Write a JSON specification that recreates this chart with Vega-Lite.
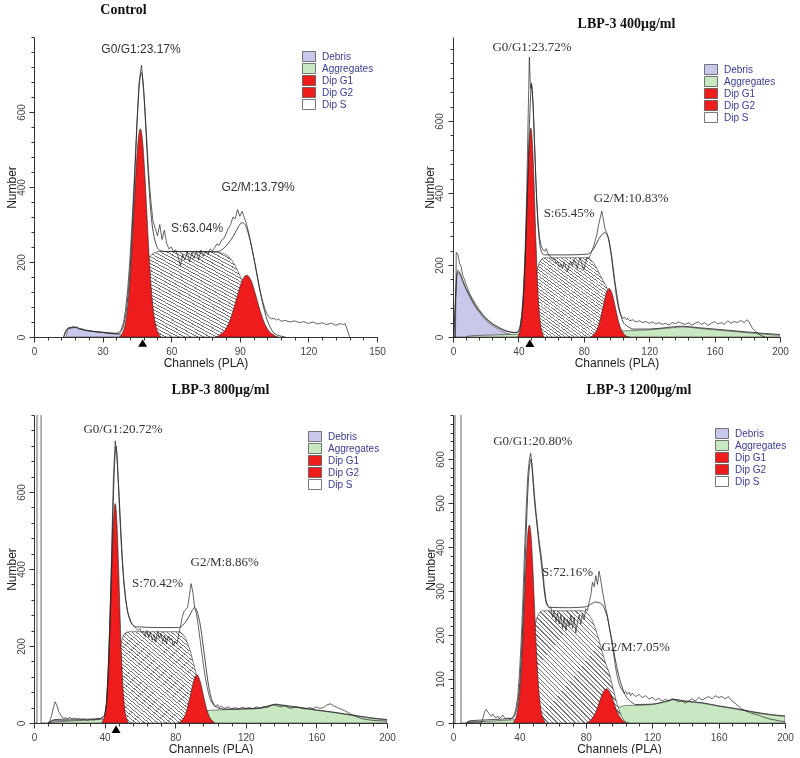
{
"$schema": "https://vega.github.io/schema/vega-lite/v6.json",
"padding": {"left": 5, "top": 2, "right": 0, "bottom": 0},
"columns": 2,
"bounds": "flush",
"spacing": {"row": 78, "column": 66},
"resolve": {"scale": {"fill": "independent"}, "legend": {"fill": "independent"}},
"datasets": {
"p1c": [
{"x":14,"y":0,"c":"Debris"},{"x":15,"y":22,"c":"Debris"},{"x":16,"y":26,"c":"Debris"},{"x":17,"y":24,"c":"Debris"},{"x":18,"y":27,"c":"Debris"},{"x":19,"y":23,"c":"Debris"},{"x":20,"y":22,"c":"Debris"},{"x":22,"y":18,"c":"Debris"},{"x":24,"y":16,"c":"Debris"},{"x":26,"y":14,"c":"Debris"},{"x":28,"y":13,"c":"Debris"},{"x":30,"y":12,"c":"Debris"},{"x":32,"y":10,"c":"Debris"},{"x":34,"y":9,"c":"Debris"},{"x":36,"y":8,"c":"Debris"},{"x":38,"y":6,"c":"Debris"},{"x":40,"y":4,"c":"Debris"},{"x":43,"y":2,"c":"Debris"},{"x":46,"y":0,"c":"Debris"},
{"x":37.5,"y":0,"c":"Dip G1"},{"x":38.5,"y":9,"c":"Dip G1"},{"x":39.5,"y":24,"c":"Dip G1"},{"x":40.5,"y":56,"c":"Dip G1"},{"x":41.5,"y":113,"c":"Dip G1"},{"x":42.5,"y":200,"c":"Dip G1"},{"x":43.5,"y":313,"c":"Dip G1"},{"x":44.5,"y":430,"c":"Dip G1"},{"x":45.5,"y":521,"c":"Dip G1"},{"x":46.5,"y":555,"c":"Dip G1"},{"x":47.5,"y":521,"c":"Dip G1"},{"x":48.5,"y":430,"c":"Dip G1"},{"x":49.5,"y":313,"c":"Dip G1"},{"x":50.5,"y":200,"c":"Dip G1"},{"x":51.5,"y":113,"c":"Dip G1"},{"x":52.5,"y":56,"c":"Dip G1"},{"x":53.5,"y":24,"c":"Dip G1"},{"x":54.5,"y":9,"c":"Dip G1"},{"x":55.5,"y":0,"c":"Dip G1"},
{"x":80,"y":0,"c":"Dip G2"},{"x":81,"y":5,"c":"Dip G2"},{"x":83,"y":14,"c":"Dip G2"},{"x":85,"y":34,"c":"Dip G2"},{"x":87,"y":68,"c":"Dip G2"},{"x":89,"y":111,"c":"Dip G2"},{"x":91,"y":150,"c":"Dip G2"},{"x":93,"y":165,"c":"Dip G2"},{"x":95,"y":150,"c":"Dip G2"},{"x":97,"y":111,"c":"Dip G2"},{"x":99,"y":68,"c":"Dip G2"},{"x":101,"y":34,"c":"Dip G2"},{"x":103,"y":14,"c":"Dip G2"},{"x":105,"y":5,"c":"Dip G2"},{"x":106,"y":0,"c":"Dip G2"},
{"x":38,"y":0,"c":"Dip S"},{"x":40,"y":8,"c":"Dip S"},{"x":42,"y":30,"c":"Dip S"},{"x":44,"y":70,"c":"Dip S"},{"x":46,"y":125,"c":"Dip S"},{"x":48,"y":175,"c":"Dip S"},{"x":50,"y":208,"c":"Dip S"},{"x":52,"y":222,"c":"Dip S"},{"x":55,"y":228,"c":"Dip S"},{"x":80,"y":226,"c":"Dip S"},{"x":83,"y":222,"c":"Dip S"},{"x":85,"y":215,"c":"Dip S"},{"x":87,"y":200,"c":"Dip S"},{"x":89,"y":178,"c":"Dip S"},{"x":91,"y":150,"c":"Dip S"},{"x":93,"y":120,"c":"Dip S"},{"x":95,"y":90,"c":"Dip S"},{"x":97,"y":62,"c":"Dip S"},{"x":99,"y":38,"c":"Dip S"},{"x":101,"y":20,"c":"Dip S"},{"x":103,"y":8,"c":"Dip S"},{"x":105,"y":2,"c":"Dip S"},{"x":107,"y":0,"c":"Dip S"}
],
"p1m": [
{"x":13,"y":0},{"x":14,"y":18},{"x":16,"y":25},{"x":18,"y":26},{"x":20,"y":22},{"x":25,"y":16},{"x":30,"y":12},{"x":35,"y":9},{"x":37,"y":9},{"x":38,"y":14},{"x":39,"y":28},{"x":40,"y":55},{"x":41,"y":105},{"x":42,"y":180},{"x":43,"y":290},{"x":44,"y":420},{"x":45,"y":560},{"x":46,"y":670},{"x":47,"y":705},{"x":48,"y":650},{"x":49,"y":545},{"x":50,"y":430},{"x":51,"y":340},{"x":52,"y":285},{"x":53,"y":255},{"x":54,"y":238},{"x":55,"y":231},{"x":57,"y":228},{"x":70,"y":228},{"x":80,"y":228},{"x":82,"y":232},{"x":84,"y":243},{"x":86,"y":258},{"x":88,"y":278},{"x":89.5,"y":295},{"x":91,"y":305},{"x":92,"y":302},{"x":93,"y":290},{"x":94,"y":270},{"x":95,"y":245},{"x":96,"y":215},{"x":97,"y":182},{"x":98,"y":150},{"x":99,"y":118},{"x":100,"y":90},{"x":101,"y":65},{"x":102,"y":45},{"x":103,"y":30},{"x":104,"y":18},{"x":105,"y":10},{"x":107,"y":4},{"x":110,"y":0}
],
"p1r": [
{"x":13,"y":0},{"x":14,"y":15},{"x":15,"y":25},{"x":16,"y":22},{"x":17,"y":28},{"x":18,"y":24},{"x":19,"y":27},{"x":20,"y":20},{"x":21,"y":22},{"x":22,"y":18},{"x":24,"y":17},{"x":26,"y":15},{"x":28,"y":14},{"x":30,"y":13},{"x":32,"y":12},{"x":34,"y":11},{"x":36,"y":10},{"x":37,"y":12},{"x":38,"y":18},{"x":39,"y":35},{"x":40,"y":70},{"x":41,"y":130},{"x":42,"y":210},{"x":43,"y":320},{"x":44,"y":440},{"x":45,"y":570},{"x":46,"y":680},{"x":47,"y":725},{"x":48,"y":660},{"x":49,"y":560},{"x":50,"y":450},{"x":51,"y":370},{"x":52,"y":310},{"x":53,"y":290},{"x":54,"y":270},{"x":55,"y":300},{"x":56,"y":260},{"x":57,"y":285},{"x":58,"y":250},{"x":59,"y":235},{"x":60,"y":240},{"x":61,"y":228},{"x":62,"y":232},{"x":63,"y":215},{"x":64,"y":190},{"x":65,"y":220},{"x":66,"y":205},{"x":67,"y":228},{"x":68,"y":200},{"x":69,"y":225},{"x":70,"y":210},{"x":71,"y":230},{"x":72,"y":205},{"x":73,"y":232},{"x":74,"y":215},{"x":75,"y":228},{"x":76,"y":220},{"x":77,"y":235},{"x":78,"y":230},{"x":79,"y":238},{"x":80,"y":248},{"x":81,"y":245},{"x":82,"y":258},{"x":83,"y":262},{"x":84,"y":275},{"x":85,"y":290},{"x":86,"y":300},{"x":87,"y":320},{"x":88,"y":315},{"x":89,"y":340},{"x":90,"y":322},{"x":91,"y":335},{"x":92,"y":318},{"x":93,"y":300},{"x":94,"y":275},{"x":95,"y":245},{"x":96,"y":215},{"x":97,"y":185},{"x":98,"y":150},{"x":99,"y":120},{"x":100,"y":95},{"x":101,"y":75},{"x":102,"y":60},{"x":103,"y":52},{"x":104,"y":48},{"x":105,"y":50},{"x":106,"y":45},{"x":107,"y":48},{"x":108,"y":42},{"x":110,"y":44},{"x":112,"y":40},{"x":114,"y":43},{"x":116,"y":38},{"x":118,"y":41},{"x":120,"y":36},{"x":122,"y":40},{"x":124,"y":35},{"x":126,"y":38},{"x":128,"y":33},{"x":130,"y":37},{"x":132,"y":31},{"x":134,"y":36},{"x":135,"y":33},{"x":136,"y":36},{"x":137,"y":20},{"x":138,"y":0}
],
"p1t": [{"x":46.8,"y":768,"t":"G0/G1:23.17%"},{"x":71.3,"y":291,"t":"S:63.04%"},{"x":98,"y":400,"t":"G2/M:13.79%"}],
"p1k": [{"x":47.5}],
"p2c": [
{"x":0.5,"y":0,"c":"Debris"},{"x":1.5,"y":100,"c":"Debris"},{"x":2.5,"y":175,"c":"Debris"},{"x":3,"y":180,"c":"Debris"},{"x":4,"y":176,"c":"Debris"},{"x":5,"y":166,"c":"Debris"},{"x":6,"y":154,"c":"Debris"},{"x":8,"y":132,"c":"Debris"},{"x":10,"y":113,"c":"Debris"},{"x":12,"y":96,"c":"Debris"},{"x":14,"y":81,"c":"Debris"},{"x":16,"y":68,"c":"Debris"},{"x":18,"y":57,"c":"Debris"},{"x":20,"y":47,"c":"Debris"},{"x":22,"y":39,"c":"Debris"},{"x":24,"y":32,"c":"Debris"},{"x":26,"y":26,"c":"Debris"},{"x":28,"y":21,"c":"Debris"},{"x":30,"y":16,"c":"Debris"},{"x":32,"y":12,"c":"Debris"},{"x":34,"y":9,"c":"Debris"},{"x":36,"y":6,"c":"Debris"},{"x":38,"y":4,"c":"Debris"},{"x":40,"y":2,"c":"Debris"},{"x":42,"y":0,"c":"Debris"},
{"x":8,"y":0,"c":"Aggregates"},{"x":10,"y":3,"c":"Aggregates"},{"x":20,"y":5,"c":"Aggregates"},{"x":40,"y":8,"c":"Aggregates"},{"x":60,"y":10,"c":"Aggregates"},{"x":80,"y":13,"c":"Aggregates"},{"x":100,"y":16,"c":"Aggregates"},{"x":105,"y":17,"c":"Aggregates"},{"x":110,"y":18,"c":"Aggregates"},{"x":120,"y":20,"c":"Aggregates"},{"x":130,"y":24,"c":"Aggregates"},{"x":135,"y":26,"c":"Aggregates"},{"x":140,"y":28,"c":"Aggregates"},{"x":145,"y":27,"c":"Aggregates"},{"x":150,"y":24,"c":"Aggregates"},{"x":160,"y":20,"c":"Aggregates"},{"x":170,"y":16,"c":"Aggregates"},{"x":180,"y":12,"c":"Aggregates"},{"x":185,"y":10,"c":"Aggregates"},{"x":190,"y":8,"c":"Aggregates"},{"x":195,"y":6,"c":"Aggregates"},{"x":200,"y":5,"c":"Aggregates"},
{"x":39.6,"y":0,"c":"Dip G1"},{"x":40.6,"y":12,"c":"Dip G1"},{"x":41.6,"y":33,"c":"Dip G1"},{"x":42.6,"y":78,"c":"Dip G1"},{"x":43.6,"y":161,"c":"Dip G1"},{"x":44.6,"y":282,"c":"Dip G1"},{"x":45.6,"y":421,"c":"Dip G1"},{"x":46.6,"y":535,"c":"Dip G1"},{"x":47.6,"y":580,"c":"Dip G1"},{"x":48.6,"y":535,"c":"Dip G1"},{"x":49.6,"y":421,"c":"Dip G1"},{"x":50.6,"y":282,"c":"Dip G1"},{"x":51.6,"y":161,"c":"Dip G1"},{"x":52.6,"y":78,"c":"Dip G1"},{"x":53.6,"y":33,"c":"Dip G1"},{"x":54.6,"y":12,"c":"Dip G1"},{"x":55.6,"y":0,"c":"Dip G1"},
{"x":84.5,"y":0,"c":"Dip G2"},{"x":85.5,"y":4,"c":"Dip G2"},{"x":87.5,"y":15,"c":"Dip G2"},{"x":89.5,"y":39,"c":"Dip G2"},{"x":91.5,"y":78,"c":"Dip G2"},{"x":93.5,"y":118,"c":"Dip G2"},{"x":95.5,"y":135,"c":"Dip G2"},{"x":97.5,"y":118,"c":"Dip G2"},{"x":99.5,"y":78,"c":"Dip G2"},{"x":101.5,"y":39,"c":"Dip G2"},{"x":103.5,"y":15,"c":"Dip G2"},{"x":105.5,"y":4,"c":"Dip G2"},{"x":106.5,"y":0,"c":"Dip G2"},
{"x":42,"y":0,"c":"Dip S"},{"x":44,"y":10,"c":"Dip S"},{"x":46,"y":40,"c":"Dip S"},{"x":48,"y":90,"c":"Dip S"},{"x":50,"y":150,"c":"Dip S"},{"x":52,"y":195,"c":"Dip S"},{"x":54,"y":215,"c":"Dip S"},{"x":56,"y":220,"c":"Dip S"},{"x":82,"y":220,"c":"Dip S"},{"x":84,"y":215,"c":"Dip S"},{"x":86,"y":205,"c":"Dip S"},{"x":88,"y":190,"c":"Dip S"},{"x":90,"y":172,"c":"Dip S"},{"x":92,"y":155,"c":"Dip S"},{"x":94,"y":138,"c":"Dip S"},{"x":96,"y":108,"c":"Dip S"},{"x":98,"y":75,"c":"Dip S"},{"x":100,"y":45,"c":"Dip S"},{"x":102,"y":22,"c":"Dip S"},{"x":104,"y":8,"c":"Dip S"},{"x":106,"y":2,"c":"Dip S"},{"x":108,"y":0,"c":"Dip S"}
],
"p2m": [
{"x":0.5,"y":0},{"x":1.5,"y":105},{"x":2.5,"y":180},{"x":3,"y":185},{"x":4,"y":180},{"x":6,"y":157},{"x":8,"y":135},{"x":10,"y":117},{"x":12,"y":100},{"x":14,"y":85},{"x":16,"y":72},{"x":18,"y":61},{"x":20,"y":51},{"x":22,"y":43},{"x":24,"y":36},{"x":26,"y":30},{"x":28,"y":25},{"x":30,"y":21},{"x":32,"y":17},{"x":34,"y":15},{"x":36,"y":13},{"x":38,"y":12},{"x":40,"y":14},{"x":41,"y":25},{"x":42,"y":55},{"x":43,"y":110},{"x":44,"y":200},{"x":45,"y":330},{"x":46,"y":480},{"x":47,"y":620},{"x":48,"y":700},{"x":49,"y":640},{"x":50,"y":520},{"x":51,"y":400},{"x":52,"y":310},{"x":53,"y":260},{"x":54,"y":238},{"x":55,"y":230},{"x":57,"y":228},{"x":70,"y":228},{"x":82,"y":230},{"x":84,"y":235},{"x":86,"y":245},{"x":88,"y":262},{"x":90,"y":278},{"x":92,"y":288},{"x":93,"y":290},{"x":94,"y":285},{"x":95,"y":275},{"x":96,"y":255},{"x":97,"y":225},{"x":98,"y":190},{"x":99,"y":155},{"x":100,"y":125},{"x":101,"y":95},{"x":102,"y":72},{"x":103,"y":55},{"x":104,"y":42},{"x":106,"y":32},{"x":108,"y":26},{"x":110,"y":22},{"x":120,"y":22},{"x":130,"y":26},{"x":140,"y":30},{"x":150,"y":26},{"x":160,"y":22},{"x":170,"y":18},{"x":180,"y":14},{"x":190,"y":10},{"x":200,"y":7}
],
"p2r": [
{"x":0,"y":0},{"x":1.5,"y":0},{"x":2,"y":235},{"x":3,"y":230},{"x":4,"y":205},{"x":5,"y":195},{"x":6,"y":170},{"x":7,"y":160},{"x":8,"y":145},{"x":9,"y":135},{"x":10,"y":122},{"x":12,"y":105},{"x":14,"y":90},{"x":16,"y":76},{"x":18,"y":64},{"x":20,"y":54},{"x":22,"y":45},{"x":24,"y":38},{"x":26,"y":32},{"x":28,"y":27},{"x":30,"y":22},{"x":32,"y":18},{"x":34,"y":15},{"x":36,"y":13},{"x":38,"y":12},{"x":40,"y":15},{"x":41,"y":30},{"x":42,"y":60},{"x":43,"y":120},{"x":44,"y":220},{"x":45,"y":380},{"x":46,"y":620},{"x":46.7,"y":777},{"x":47.4,"y":690},{"x":48,"y":705},{"x":49,"y":650},{"x":50,"y":520},{"x":51,"y":400},{"x":52,"y":320},{"x":53,"y":275},{"x":54,"y":252},{"x":55,"y":243},{"x":56,"y":238},{"x":57,"y":245},{"x":58,"y":232},{"x":59,"y":225},{"x":60,"y":222},{"x":61,"y":215},{"x":62,"y":218},{"x":63,"y":205},{"x":64,"y":210},{"x":65,"y":195},{"x":66,"y":203},{"x":67,"y":190},{"x":68,"y":208},{"x":69,"y":195},{"x":70,"y":182},{"x":71,"y":200},{"x":72,"y":210},{"x":73,"y":198},{"x":74,"y":215},{"x":75,"y":205},{"x":76,"y":190},{"x":77,"y":212},{"x":78,"y":220},{"x":79,"y":200},{"x":80,"y":185},{"x":81,"y":205},{"x":82,"y":222},{"x":83,"y":218},{"x":84,"y":228},{"x":85,"y":240},{"x":86,"y":252},{"x":87,"y":268},{"x":88,"y":285},{"x":89,"y":310},{"x":90,"y":330},{"x":91,"y":350},{"x":92,"y":325},{"x":93,"y":300},{"x":94,"y":290},{"x":95,"y":275},{"x":96,"y":250},{"x":97,"y":220},{"x":98,"y":180},{"x":99,"y":145},{"x":100,"y":110},{"x":101,"y":85},{"x":102,"y":68},{"x":103,"y":58},{"x":104,"y":52},{"x":105,"y":55},{"x":106,"y":48},{"x":107,"y":52},{"x":108,"y":45},{"x":110,"y":48},{"x":112,"y":42},{"x":114,"y":45},{"x":116,"y":40},{"x":118,"y":43},{"x":120,"y":38},{"x":122,"y":42},{"x":124,"y":36},{"x":126,"y":40},{"x":128,"y":35},{"x":130,"y":38},{"x":132,"y":33},{"x":134,"y":40},{"x":136,"y":37},{"x":138,"y":42},{"x":140,"y":38},{"x":142,"y":35},{"x":144,"y":40},{"x":146,"y":33},{"x":148,"y":38},{"x":150,"y":42},{"x":152,"y":35},{"x":154,"y":40},{"x":156,"y":32},{"x":158,"y":38},{"x":160,"y":43},{"x":162,"y":36},{"x":164,"y":40},{"x":166,"y":35},{"x":168,"y":45},{"x":170,"y":38},{"x":172,"y":43},{"x":174,"y":40},{"x":176,"y":46},{"x":178,"y":40},{"x":180,"y":48},{"x":181,"y":42},{"x":183,"y":25},{"x":185,"y":15},{"x":187,"y":8},{"x":189,"y":3},{"x":191,"y":0}
],
"p2t": [{"x":48.3,"y":805,"t":"G0/G1:23.72%"},{"x":71,"y":344,"t":"S:65.45%"},{"x":109,"y":386,"t":"G2/M:10.83%"}],
"p2k": [{"x":47}],
"p3c": [
{"x":8,"y":0,"c":"Debris"},{"x":10,"y":5,"c":"Debris"},{"x":12,"y":7,"c":"Debris"},{"x":20,"y":6,"c":"Debris"},{"x":30,"y":5,"c":"Debris"},{"x":40,"y":3,"c":"Debris"},{"x":45,"y":0,"c":"Debris"},
{"x":8,"y":0,"c":"Aggregates"},{"x":10,"y":2,"c":"Aggregates"},{"x":20,"y":5,"c":"Aggregates"},{"x":40,"y":10,"c":"Aggregates"},{"x":60,"y":15,"c":"Aggregates"},{"x":80,"y":22,"c":"Aggregates"},{"x":95,"y":30,"c":"Aggregates"},{"x":100,"y":33,"c":"Aggregates"},{"x":110,"y":35,"c":"Aggregates"},{"x":120,"y":36,"c":"Aggregates"},{"x":128,"y":38,"c":"Aggregates"},{"x":134,"y":45,"c":"Aggregates"},{"x":137,"y":48,"c":"Aggregates"},{"x":140,"y":46,"c":"Aggregates"},{"x":145,"y":42,"c":"Aggregates"},{"x":150,"y":40,"c":"Aggregates"},{"x":160,"y":33,"c":"Aggregates"},{"x":170,"y":27,"c":"Aggregates"},{"x":180,"y":20,"c":"Aggregates"},{"x":190,"y":13,"c":"Aggregates"},{"x":195,"y":10,"c":"Aggregates"},{"x":200,"y":8,"c":"Aggregates"},
{"x":38.5,"y":0,"c":"Dip G1"},{"x":39,"y":6,"c":"Dip G1"},{"x":40,"y":19,"c":"Dip G1"},{"x":41,"y":54,"c":"Dip G1"},{"x":42,"y":126,"c":"Dip G1"},{"x":43,"y":243,"c":"Dip G1"},{"x":44,"y":391,"c":"Dip G1"},{"x":45,"y":519,"c":"Dip G1"},{"x":46,"y":570,"c":"Dip G1"},{"x":47,"y":519,"c":"Dip G1"},{"x":48,"y":391,"c":"Dip G1"},{"x":49,"y":243,"c":"Dip G1"},{"x":50,"y":126,"c":"Dip G1"},{"x":51,"y":54,"c":"Dip G1"},{"x":52,"y":19,"c":"Dip G1"},{"x":53,"y":6,"c":"Dip G1"},{"x":53.5,"y":0,"c":"Dip G1"},
{"x":82.3,"y":0,"c":"Dip G2"},{"x":83.3,"y":5,"c":"Dip G2"},{"x":84.3,"y":9,"c":"Dip G2"},{"x":86.3,"y":29,"c":"Dip G2"},{"x":88.3,"y":65,"c":"Dip G2"},{"x":90.3,"y":106,"c":"Dip G2"},{"x":92.3,"y":125,"c":"Dip G2"},{"x":94.3,"y":106,"c":"Dip G2"},{"x":96.3,"y":65,"c":"Dip G2"},{"x":98.3,"y":29,"c":"Dip G2"},{"x":100.3,"y":9,"c":"Dip G2"},{"x":101.3,"y":5,"c":"Dip G2"},{"x":102.3,"y":0,"c":"Dip G2"},
{"x":40,"y":0,"c":"Dip S"},{"x":42,"y":12,"c":"Dip S"},{"x":44,"y":50,"c":"Dip S"},{"x":46,"y":110,"c":"Dip S"},{"x":48,"y":175,"c":"Dip S"},{"x":50,"y":218,"c":"Dip S"},{"x":52,"y":235,"c":"Dip S"},{"x":54,"y":237,"c":"Dip S"},{"x":82,"y":237,"c":"Dip S"},{"x":84,"y":232,"c":"Dip S"},{"x":86,"y":218,"c":"Dip S"},{"x":88,"y":195,"c":"Dip S"},{"x":90,"y":162,"c":"Dip S"},{"x":92,"y":125,"c":"Dip S"},{"x":94,"y":88,"c":"Dip S"},{"x":96,"y":52,"c":"Dip S"},{"x":98,"y":24,"c":"Dip S"},{"x":100,"y":7,"c":"Dip S"},{"x":102,"y":0,"c":"Dip S"}
],
"p3m": [
{"x":8,"y":0},{"x":10,"y":6},{"x":12,"y":9},{"x":20,"y":10},{"x":30,"y":10},{"x":38,"y":12},{"x":40,"y":20},{"x":41,"y":45},{"x":42,"y":140},{"x":43,"y":270},{"x":44,"y":420},{"x":45,"y":590},{"x":46,"y":700},{"x":46.5,"y":719},{"x":47,"y":690},{"x":48,"y":610},{"x":49,"y":520},{"x":50,"y":430},{"x":51,"y":365},{"x":52,"y":320},{"x":53,"y":290},{"x":54,"y":272},{"x":55,"y":260},{"x":56,"y":254},{"x":58,"y":250},{"x":70,"y":248},{"x":82,"y":248},{"x":84,"y":253},{"x":86,"y":263},{"x":88,"y":278},{"x":90,"y":295},{"x":91,"y":300},{"x":92,"y":295},{"x":93,"y":280},{"x":94,"y":260},{"x":95,"y":230},{"x":96,"y":195},{"x":97,"y":160},{"x":98,"y":125},{"x":99,"y":95},{"x":100,"y":72},{"x":101,"y":57},{"x":102,"y":48},{"x":104,"y":40},{"x":106,"y":37},{"x":110,"y":36},{"x":120,"y":37},{"x":128,"y":39},{"x":134,"y":46},{"x":137,"y":49},{"x":140,"y":47},{"x":150,"y":41},{"x":160,"y":34},{"x":170,"y":28},{"x":180,"y":21},{"x":190,"y":14},{"x":200,"y":9}
],
"p3r": [
{"x":0,"y":0},{"x":1.69,"y":0},{"x":1.7,"y":2000},{"x":4,"y":2000},{"x":4.01,"y":0},{"x":8,"y":0},{"x":9,"y":5},{"x":10,"y":20},{"x":11,"y":40},{"x":12,"y":55},{"x":13,"y":45},{"x":14,"y":30},{"x":15,"y":22},{"x":16,"y":15},{"x":17,"y":12},{"x":18,"y":14},{"x":19,"y":10},{"x":20,"y":15},{"x":21,"y":12},{"x":22,"y":10},{"x":23,"y":13},{"x":24,"y":9},{"x":25,"y":12},{"x":26,"y":8},{"x":28,"y":10},{"x":30,"y":7},{"x":32,"y":9},{"x":34,"y":8},{"x":36,"y":10},{"x":38,"y":12},{"x":40,"y":20},{"x":41,"y":50},{"x":42,"y":120},{"x":43,"y":260},{"x":44,"y":450},{"x":45,"y":640},{"x":46,"y":733},{"x":47,"y":700},{"x":48,"y":600},{"x":49,"y":500},{"x":50,"y":420},{"x":51,"y":360},{"x":52,"y":318},{"x":53,"y":290},{"x":54,"y":275},{"x":55,"y":262},{"x":56,"y":255},{"x":57,"y":250},{"x":58,"y":245},{"x":59,"y":240},{"x":60,"y":245},{"x":61,"y":235},{"x":62,"y":238},{"x":63,"y":225},{"x":64,"y":240},{"x":65,"y":222},{"x":66,"y":235},{"x":67,"y":215},{"x":68,"y":230},{"x":69,"y":210},{"x":70,"y":238},{"x":71,"y":220},{"x":72,"y":232},{"x":73,"y":212},{"x":74,"y":228},{"x":75,"y":205},{"x":76,"y":225},{"x":77,"y":215},{"x":78,"y":220},{"x":79,"y":200},{"x":80,"y":212},{"x":81,"y":205},{"x":82,"y":230},{"x":83,"y":250},{"x":84,"y":275},{"x":85,"y":290},{"x":86,"y":295},{"x":87,"y":300},{"x":88,"y":330},{"x":89,"y":362},{"x":90,"y":340},{"x":91,"y":300},{"x":92,"y":285},{"x":93,"y":255},{"x":94,"y":220},{"x":95,"y":185},{"x":96,"y":150},{"x":97,"y":120},{"x":98,"y":95},{"x":99,"y":75},{"x":100,"y":60},{"x":101,"y":52},{"x":102,"y":45},{"x":103,"y":42},{"x":104,"y":48},{"x":105,"y":40},{"x":106,"y":44},{"x":108,"y":38},{"x":110,"y":42},{"x":112,"y":37},{"x":114,"y":40},{"x":116,"y":36},{"x":118,"y":41},{"x":120,"y":38},{"x":122,"y":40},{"x":124,"y":37},{"x":126,"y":42},{"x":128,"y":38},{"x":130,"y":43},{"x":132,"y":40},{"x":134,"y":45},{"x":136,"y":48},{"x":138,"y":44},{"x":140,"y":42},{"x":142,"y":45},{"x":144,"y":40},{"x":146,"y":38},{"x":148,"y":42},{"x":150,"y":40},{"x":152,"y":38},{"x":154,"y":36},{"x":156,"y":40},{"x":158,"y":37},{"x":160,"y":42},{"x":162,"y":38},{"x":164,"y":40},{"x":166,"y":47},{"x":168,"y":50},{"x":170,"y":44},{"x":172,"y":40},{"x":174,"y":36},{"x":176,"y":32},{"x":178,"y":27},{"x":180,"y":22},{"x":182,"y":18},{"x":184,"y":14},{"x":186,"y":11},{"x":188,"y":9},{"x":190,"y":8},{"x":192,"y":7},{"x":195,"y":6},{"x":200,"y":5}
],
"p3t": [{"x":50.4,"y":764,"t":"G0/G1:20.72%"},{"x":70,"y":364,"t":"S:70.42%"},{"x":108,"y":418,"t":"G2/M:8.86%"}],
"p3k": [{"x":46.5}],
"p4c": [
{"x":8,"y":0,"c":"Debris"},{"x":10,"y":3,"c":"Debris"},{"x":20,"y":3,"c":"Debris"},{"x":30,"y":2,"c":"Debris"},{"x":38,"y":0,"c":"Debris"},
{"x":8,"y":0,"c":"Aggregates"},{"x":10,"y":2,"c":"Aggregates"},{"x":20,"y":4,"c":"Aggregates"},{"x":40,"y":8,"c":"Aggregates"},{"x":60,"y":14,"c":"Aggregates"},{"x":80,"y":22,"c":"Aggregates"},{"x":95,"y":32,"c":"Aggregates"},{"x":100,"y":36,"c":"Aggregates"},{"x":105,"y":40,"c":"Aggregates"},{"x":110,"y":40,"c":"Aggregates"},{"x":120,"y":42,"c":"Aggregates"},{"x":128,"y":48,"c":"Aggregates"},{"x":133,"y":53,"c":"Aggregates"},{"x":138,"y":50,"c":"Aggregates"},{"x":145,"y":47,"c":"Aggregates"},{"x":150,"y":45,"c":"Aggregates"},{"x":160,"y":38,"c":"Aggregates"},{"x":170,"y":32,"c":"Aggregates"},{"x":180,"y":25,"c":"Aggregates"},{"x":190,"y":19,"c":"Aggregates"},{"x":200,"y":15,"c":"Aggregates"},
{"x":36.5,"y":0,"c":"Dip G1"},{"x":37,"y":5,"c":"Dip G1"},{"x":38,"y":13,"c":"Dip G1"},{"x":39,"y":30,"c":"Dip G1"},{"x":40,"y":61,"c":"Dip G1"},{"x":41,"y":112,"c":"Dip G1"},{"x":42,"y":185,"c":"Dip G1"},{"x":43,"y":273,"c":"Dip G1"},{"x":44,"y":360,"c":"Dip G1"},{"x":45,"y":426,"c":"Dip G1"},{"x":46,"y":450,"c":"Dip G1"},{"x":47,"y":426,"c":"Dip G1"},{"x":48,"y":360,"c":"Dip G1"},{"x":49,"y":273,"c":"Dip G1"},{"x":50,"y":185,"c":"Dip G1"},{"x":51,"y":112,"c":"Dip G1"},{"x":52,"y":61,"c":"Dip G1"},{"x":53,"y":30,"c":"Dip G1"},{"x":54,"y":13,"c":"Dip G1"},{"x":55,"y":5,"c":"Dip G1"},{"x":55.5,"y":0,"c":"Dip G1"},
{"x":80.5,"y":0,"c":"Dip G2"},{"x":82.5,"y":5,"c":"Dip G2"},{"x":84.5,"y":14,"c":"Dip G2"},{"x":86.5,"y":29,"c":"Dip G2"},{"x":88.5,"y":51,"c":"Dip G2"},{"x":90.5,"y":70,"c":"Dip G2"},{"x":92.5,"y":78,"c":"Dip G2"},{"x":94.5,"y":70,"c":"Dip G2"},{"x":96.5,"y":51,"c":"Dip G2"},{"x":98.5,"y":29,"c":"Dip G2"},{"x":100.5,"y":14,"c":"Dip G2"},{"x":102.5,"y":5,"c":"Dip G2"},{"x":104.5,"y":0,"c":"Dip G2"},
{"x":38,"y":0,"c":"Dip S"},{"x":40,"y":10,"c":"Dip S"},{"x":42,"y":35,"c":"Dip S"},{"x":44,"y":80,"c":"Dip S"},{"x":46,"y":140,"c":"Dip S"},{"x":48,"y":195,"c":"Dip S"},{"x":50,"y":232,"c":"Dip S"},{"x":52,"y":250,"c":"Dip S"},{"x":54,"y":255,"c":"Dip S"},{"x":78,"y":255,"c":"Dip S"},{"x":80,"y":252,"c":"Dip S"},{"x":82,"y":245,"c":"Dip S"},{"x":84,"y":232,"c":"Dip S"},{"x":86,"y":212,"c":"Dip S"},{"x":88,"y":188,"c":"Dip S"},{"x":90,"y":160,"c":"Dip S"},{"x":92,"y":135,"c":"Dip S"},{"x":94,"y":115,"c":"Dip S"},{"x":96,"y":85,"c":"Dip S"},{"x":98,"y":55,"c":"Dip S"},{"x":100,"y":30,"c":"Dip S"},{"x":102,"y":12,"c":"Dip S"},{"x":104,"y":3,"c":"Dip S"},{"x":106,"y":0,"c":"Dip S"}
],
"p4m": [
{"x":8,"y":0},{"x":10,"y":5},{"x":20,"y":7},{"x":30,"y":9},{"x":36,"y":11},{"x":37,"y":16},{"x":38,"y":25},{"x":39,"y":45},{"x":40,"y":80},{"x":41,"y":140},{"x":42,"y":220},{"x":43,"y":320},{"x":44,"y":420},{"x":45,"y":520},{"x":46,"y":580},{"x":47,"y":600},{"x":48,"y":560},{"x":49,"y":510},{"x":50,"y":470},{"x":51,"y":435},{"x":52,"y":400},{"x":53,"y":370},{"x":54,"y":335},{"x":55,"y":300},{"x":56,"y":275},{"x":57,"y":266},{"x":58,"y":263},{"x":70,"y":262},{"x":80,"y":264},{"x":83,"y":270},{"x":86,"y":275},{"x":89,"y":272},{"x":91,"y":262},{"x":92,"y":252},{"x":93,"y":240},{"x":94,"y":222},{"x":95,"y":202},{"x":96,"y":182},{"x":97,"y":160},{"x":98,"y":140},{"x":99,"y":122},{"x":100,"y":105},{"x":101,"y":92},{"x":102,"y":80},{"x":103,"y":70},{"x":104,"y":62},{"x":106,"y":52},{"x":108,"y":46},{"x":110,"y":42},{"x":120,"y":43},{"x":128,"y":49},{"x":133,"y":54},{"x":138,"y":51},{"x":145,"y":48},{"x":150,"y":46},{"x":160,"y":39},{"x":170,"y":33},{"x":180,"y":26},{"x":190,"y":20},{"x":200,"y":16}
],
"p4r": [
{"x":0,"y":0},{"x":1.19,"y":0},{"x":1.2,"y":2000},{"x":4.8,"y":2000},{"x":4.81,"y":0},{"x":17,"y":0},{"x":18,"y":10},{"x":19,"y":25},{"x":20,"y":31},{"x":21,"y":25},{"x":22,"y":20},{"x":23,"y":15},{"x":24,"y":20},{"x":25,"y":14},{"x":26,"y":12},{"x":27,"y":16},{"x":28,"y":10},{"x":29,"y":14},{"x":30,"y":18},{"x":31,"y":12},{"x":32,"y":9},{"x":33,"y":12},{"x":34,"y":8},{"x":35,"y":10},{"x":36,"y":12},{"x":37,"y":20},{"x":38,"y":35},{"x":39,"y":60},{"x":40,"y":110},{"x":41,"y":180},{"x":42,"y":270},{"x":43,"y":380},{"x":44,"y":480},{"x":45,"y":560},{"x":46,"y":600},{"x":46.8,"y":613},{"x":47.5,"y":590},{"x":48,"y":570},{"x":49,"y":520},{"x":50,"y":480},{"x":51,"y":445},{"x":52,"y":410},{"x":53,"y":385},{"x":54,"y":350},{"x":55,"y":310},{"x":56,"y":280},{"x":57,"y":268},{"x":58,"y":262},{"x":59,"y":262},{"x":60,"y":240},{"x":61,"y":255},{"x":62,"y":230},{"x":63,"y":250},{"x":64,"y":225},{"x":65,"y":245},{"x":66,"y":215},{"x":67,"y":240},{"x":68,"y":210},{"x":69,"y":235},{"x":70,"y":220},{"x":71,"y":245},{"x":72,"y":215},{"x":73,"y":240},{"x":74,"y":205},{"x":75,"y":230},{"x":76,"y":245},{"x":77,"y":225},{"x":78,"y":250},{"x":79,"y":235},{"x":80,"y":260},{"x":81,"y":255},{"x":82,"y":275},{"x":83,"y":290},{"x":84,"y":320},{"x":85,"y":310},{"x":86,"y":335},{"x":87,"y":315},{"x":88,"y":345},{"x":89,"y":325},{"x":90,"y":300},{"x":91,"y":280},{"x":92,"y":260},{"x":93,"y":245},{"x":94,"y":220},{"x":95,"y":200},{"x":96,"y":175},{"x":97,"y":150},{"x":98,"y":125},{"x":99,"y":105},{"x":100,"y":90},{"x":101,"y":80},{"x":102,"y":75},{"x":103,"y":68},{"x":104,"y":72},{"x":105,"y":65},{"x":106,"y":70},{"x":107,"y":62},{"x":108,"y":68},{"x":110,"y":60},{"x":112,"y":65},{"x":114,"y":58},{"x":116,"y":62},{"x":118,"y":55},{"x":120,"y":58},{"x":122,"y":52},{"x":124,"y":56},{"x":126,"y":50},{"x":128,"y":54},{"x":130,"y":50},{"x":132,"y":55},{"x":134,"y":52},{"x":136,"y":48},{"x":138,"y":50},{"x":140,"y":45},{"x":142,"y":50},{"x":144,"y":55},{"x":146,"y":50},{"x":148,"y":58},{"x":150,"y":52},{"x":152,"y":56},{"x":154,"y":60},{"x":156,"y":55},{"x":158,"y":62},{"x":160,"y":58},{"x":162,"y":60},{"x":164,"y":55},{"x":166,"y":60},{"x":168,"y":50},{"x":170,"y":45},{"x":172,"y":38},{"x":174,"y":32},{"x":176,"y":28},{"x":178,"y":25},{"x":180,"y":22},{"x":182,"y":20},{"x":184,"y":18},{"x":186,"y":15},{"x":188,"y":12},{"x":190,"y":10},{"x":192,"y":8},{"x":194,"y":7},{"x":196,"y":5},{"x":198,"y":4},{"x":200,"y":3}
],
"p4t": [{"x":48,"y":640,"t":"G0/G1:20.80%"},{"x":69,"y":344,"t":"S:72.16%"},{"x":110,"y":172,"t":"G2/M:7.05%"}]
},
"concat": [
{
"width": 343, "height": 300,
"title": {"text": "Control", "offset": 20, "dx": -82},
"resolve": {"axis": {"x": "independent", "y": "independent"}},
"layer": [
{"data": {"name": "p1c"}, "transform": [{"filter": {"field": "c", "oneOf": ["Debris", "Aggregates"]}}],
 "mark": {"type": "area", "interpolate": "monotone", "stroke": "#333", "strokeWidth": 0.6, "clip": true},
 "encoding": {
  "x": {"field": "x", "type": "quantitative", "scale": {"domain": [0, 150], "nice": false}, "axis": {"title": "Channels (PLA)", "orient": "bottom", "values": [0, 30, 60, 90, 120, 150], "tickSize": 5, "labelPadding": 4, "titlePadding": 1, "labelFlush": false}},
  "y": {"field": "y", "type": "quantitative", "stack": null, "scale": {"domain": [0, 800], "nice": false}, "axis": {"title": "Number", "orient": "left", "values": [0, 200, 400, 600], "tickSize": 5, "labelAngle": 270, "labelAlign": "center", "labelBaseline": "bottom", "labelPadding": 3, "titlePadding": -2}},
  "fill": {"field": "c", "type": "nominal", "scale": {"domain": ["Debris", "Aggregates", "Dip G1", "Dip G2", "Dip S"], "range": ["#c8c8ea", "#c8e8c2", "#ee1c1c", "#ee1c1c", "#ffffff"]}, "legend": {"orient": "none", "legendX": 268, "legendY": 14, "title": null, "encode": {"symbols": {"update": {"stroke": {"value": "#555"}, "strokeWidth": {"value": 0.8}}}}}}
 }},
{"data": {"name": "p1c"}, "transform": [{"filter": {"field": "c", "equal": "Dip S"}}],
 "mark": {"type": "area", "interpolate": "monotone", "stroke": "#333", "strokeWidth": 0.6, "clip": true, "fill": {"gradient": "linear", "x1": 0, "y1": 1, "x2": 1, "y2": 0, "stops": [
{"offset":0,"color":"#777"},{"offset":0.006,"color":"#777"},{"offset":0.006,"color":"#fff"},{"offset":0.02,"color":"#fff"},{"offset":0.02,"color":"#777"},{"offset":0.026,"color":"#777"},{"offset":0.026,"color":"#fff"},{"offset":0.04,"color":"#fff"},{"offset":0.04,"color":"#777"},{"offset":0.046,"color":"#777"},{"offset":0.046,"color":"#fff"},{"offset":0.06,"color":"#fff"},{"offset":0.06,"color":"#777"},{"offset":0.066,"color":"#777"},{"offset":0.066,"color":"#fff"},{"offset":0.08,"color":"#fff"},{"offset":0.08,"color":"#777"},{"offset":0.086,"color":"#777"},{"offset":0.086,"color":"#fff"},{"offset":0.1,"color":"#fff"},{"offset":0.1,"color":"#777"},{"offset":0.106,"color":"#777"},{"offset":0.106,"color":"#fff"},{"offset":0.12,"color":"#fff"},{"offset":0.12,"color":"#777"},{"offset":0.126,"color":"#777"},{"offset":0.126,"color":"#fff"},{"offset":0.14,"color":"#fff"},{"offset":0.14,"color":"#777"},{"offset":0.146,"color":"#777"},{"offset":0.146,"color":"#fff"},{"offset":0.16,"color":"#fff"},{"offset":0.16,"color":"#777"},{"offset":0.166,"color":"#777"},{"offset":0.166,"color":"#fff"},{"offset":0.18,"color":"#fff"},{"offset":0.18,"color":"#777"},{"offset":0.186,"color":"#777"},{"offset":0.186,"color":"#fff"},{"offset":0.2,"color":"#fff"},{"offset":0.2,"color":"#777"},{"offset":0.206,"color":"#777"},{"offset":0.206,"color":"#fff"},{"offset":0.22,"color":"#fff"},{"offset":0.22,"color":"#777"},{"offset":0.226,"color":"#777"},{"offset":0.226,"color":"#fff"},{"offset":0.24,"color":"#fff"},{"offset":0.24,"color":"#777"},{"offset":0.246,"color":"#777"},{"offset":0.246,"color":"#fff"},{"offset":0.26,"color":"#fff"},{"offset":0.26,"color":"#777"},{"offset":0.266,"color":"#777"},{"offset":0.266,"color":"#fff"},{"offset":0.28,"color":"#fff"},{"offset":0.28,"color":"#777"},{"offset":0.286,"color":"#777"},{"offset":0.286,"color":"#fff"},{"offset":0.3,"color":"#fff"},{"offset":0.3,"color":"#777"},{"offset":0.306,"color":"#777"},{"offset":0.306,"color":"#fff"},{"offset":0.32,"color":"#fff"},{"offset":0.32,"color":"#777"},{"offset":0.326,"color":"#777"},{"offset":0.326,"color":"#fff"},{"offset":0.34,"color":"#fff"},{"offset":0.34,"color":"#777"},{"offset":0.346,"color":"#777"},{"offset":0.346,"color":"#fff"},{"offset":0.36,"color":"#fff"},{"offset":0.36,"color":"#777"},{"offset":0.366,"color":"#777"},{"offset":0.366,"color":"#fff"},{"offset":0.38,"color":"#fff"},{"offset":0.38,"color":"#777"},{"offset":0.386,"color":"#777"},{"offset":0.386,"color":"#fff"},{"offset":0.4,"color":"#fff"},{"offset":0.4,"color":"#777"},{"offset":0.406,"color":"#777"},{"offset":0.406,"color":"#fff"},{"offset":0.42,"color":"#fff"},{"offset":0.42,"color":"#777"},{"offset":0.426,"color":"#777"},{"offset":0.426,"color":"#fff"},{"offset":0.44,"color":"#fff"},{"offset":0.44,"color":"#777"},{"offset":0.446,"color":"#777"},{"offset":0.446,"color":"#fff"},{"offset":0.46,"color":"#fff"},{"offset":0.46,"color":"#777"},{"offset":0.466,"color":"#777"},{"offset":0.466,"color":"#fff"},{"offset":0.48,"color":"#fff"},{"offset":0.48,"color":"#777"},{"offset":0.486,"color":"#777"},{"offset":0.486,"color":"#fff"},{"offset":0.5,"color":"#fff"},{"offset":0.5,"color":"#777"},{"offset":0.506,"color":"#777"},{"offset":0.506,"color":"#fff"},{"offset":0.52,"color":"#fff"},{"offset":0.52,"color":"#777"},{"offset":0.526,"color":"#777"},{"offset":0.526,"color":"#fff"},{"offset":0.54,"color":"#fff"},{"offset":0.54,"color":"#777"},{"offset":0.546,"color":"#777"},{"offset":0.546,"color":"#fff"},{"offset":0.56,"color":"#fff"},{"offset":0.56,"color":"#777"},{"offset":0.566,"color":"#777"},{"offset":0.566,"color":"#fff"},{"offset":0.58,"color":"#fff"},{"offset":0.58,"color":"#777"},{"offset":0.586,"color":"#777"},{"offset":0.586,"color":"#fff"},{"offset":0.6,"color":"#fff"},{"offset":0.6,"color":"#777"},{"offset":0.606,"color":"#777"},{"offset":0.606,"color":"#fff"},{"offset":0.62,"color":"#fff"},{"offset":0.62,"color":"#777"},{"offset":0.626,"color":"#777"},{"offset":0.626,"color":"#fff"},{"offset":0.64,"color":"#fff"},{"offset":0.64,"color":"#777"},{"offset":0.646,"color":"#777"},{"offset":0.646,"color":"#fff"},{"offset":0.66,"color":"#fff"},{"offset":0.66,"color":"#777"},{"offset":0.666,"color":"#777"},{"offset":0.666,"color":"#fff"},{"offset":0.68,"color":"#fff"},{"offset":0.68,"color":"#777"},{"offset":0.686,"color":"#777"},{"offset":0.686,"color":"#fff"},{"offset":0.7,"color":"#fff"},{"offset":0.7,"color":"#777"},{"offset":0.706,"color":"#777"},{"offset":0.706,"color":"#fff"},{"offset":0.72,"color":"#fff"},{"offset":0.72,"color":"#777"},{"offset":0.726,"color":"#777"},{"offset":0.726,"color":"#fff"},{"offset":0.74,"color":"#fff"},{"offset":0.74,"color":"#777"},{"offset":0.746,"color":"#777"},{"offset":0.746,"color":"#fff"},{"offset":0.76,"color":"#fff"},{"offset":0.76,"color":"#777"},{"offset":0.766,"color":"#777"},{"offset":0.766,"color":"#fff"},{"offset":0.78,"color":"#fff"},{"offset":0.78,"color":"#777"},{"offset":0.786,"color":"#777"},{"offset":0.786,"color":"#fff"},{"offset":0.8,"color":"#fff"},{"offset":0.8,"color":"#777"},{"offset":0.806,"color":"#777"},{"offset":0.806,"color":"#fff"},{"offset":0.82,"color":"#fff"},{"offset":0.82,"color":"#777"},{"offset":0.826,"color":"#777"},{"offset":0.826,"color":"#fff"},{"offset":0.84,"color":"#fff"},{"offset":0.84,"color":"#777"},{"offset":0.846,"color":"#777"},{"offset":0.846,"color":"#fff"},{"offset":0.86,"color":"#fff"},{"offset":0.86,"color":"#777"},{"offset":0.866,"color":"#777"},{"offset":0.866,"color":"#fff"},{"offset":0.88,"color":"#fff"},{"offset":0.88,"color":"#777"},{"offset":0.886,"color":"#777"},{"offset":0.886,"color":"#fff"},{"offset":0.9,"color":"#fff"},{"offset":0.9,"color":"#777"},{"offset":0.906,"color":"#777"},{"offset":0.906,"color":"#fff"},{"offset":0.92,"color":"#fff"},{"offset":0.92,"color":"#777"},{"offset":0.926,"color":"#777"},{"offset":0.926,"color":"#fff"},{"offset":0.94,"color":"#fff"},{"offset":0.94,"color":"#777"},{"offset":0.946,"color":"#777"},{"offset":0.946,"color":"#fff"},{"offset":0.96,"color":"#fff"},{"offset":0.96,"color":"#777"},{"offset":0.966,"color":"#777"},{"offset":0.966,"color":"#fff"},{"offset":0.98,"color":"#fff"},{"offset":0.98,"color":"#777"},{"offset":0.986,"color":"#777"},{"offset":0.986,"color":"#fff"},{"offset":1,"color":"#fff"}]}},
 "encoding": {
  "x": {"field": "x", "type": "quantitative", "scale": {"domain": [0, 150], "nice": false}, "axis": null},
  "y": {"field": "y", "type": "quantitative", "stack": null, "scale": {"domain": [0, 800], "nice": false}, "axis": null}
 }},
{"data": {"name": "p1c"}, "transform": [{"filter": {"field": "c", "oneOf": ["Dip G1", "Dip G2"]}}],
 "mark": {"type": "area", "interpolate": "monotone", "blend": "multiply", "stroke": "#222", "strokeWidth": 0.6, "clip": true},
 "encoding": {
  "x": {"field": "x", "type": "quantitative", "scale": {"domain": [0, 150], "nice": false}, "axis": null},
  "y": {"field": "y", "type": "quantitative", "stack": null, "scale": {"domain": [0, 800], "nice": false}, "axis": null},
  "fill": {"field": "c", "type": "nominal", "scale": {"domain": ["Debris", "Aggregates", "Dip G1", "Dip G2", "Dip S"], "range": ["#c8c8ea", "#c8e8c2", "#ee1c1c", "#ee1c1c", "#ffffff"]}, "legend": {"orient": "none", "legendX": 268, "legendY": 14, "title": null, "encode": {"symbols": {"update": {"stroke": {"value": "#555"}, "strokeWidth": {"value": 0.8}}}}}}
 }},
{"data": {"name": "p1m"},
 "mark": {"type": "line", "interpolate": "monotone", "color": "#222", "strokeWidth": 0.8, "clip": true},
 "encoding": {
  "x": {"field": "x", "type": "quantitative", "scale": {"domain": [0, 150], "nice": false}, "axis": {"orient": "bottom", "values": [0,6,12,18,24,30,36,42,48,54,60,66,72,78,84,90,96,102,108,114,120,126,132,138,144,150], "labels": false, "domain": false, "tickSize": 3, "title": null}},
  "y": {"field": "y", "type": "quantitative", "scale": {"domain": [0, 800], "nice": false}, "axis": {"orient": "left", "values": [0,40,80,120,160,200,240,280,320,360,400,440,480,520,560,600,640,680,720,760,800], "labels": false, "domain": false, "tickSize": 3, "title": null}}
 }},
{"data": {"name": "p1r"},
 "mark": {"type": "line", "color": "#222", "strokeWidth": 0.7, "clip": true},
 "encoding": {
  "x": {"field": "x", "type": "quantitative", "scale": {"domain": [0, 150], "nice": false}, "axis": null},
  "y": {"field": "y", "type": "quantitative", "scale": {"domain": [0, 800], "nice": false}, "axis": null}
 }},
{"data": {"name": "p1t"},
 "mark": {"type": "text", "font": "Liberation Sans", "fontSize": 12, "color": "#333"},
 "encoding": {
  "x": {"field": "x", "type": "quantitative", "scale": {"domain": [0, 150], "nice": false}, "axis": null},
  "y": {"field": "y", "type": "quantitative", "scale": {"domain": [0, 800], "nice": false}, "axis": null},
  "text": {"field": "t"}
 }},
{"data": {"name": "p1k"},
 "mark": {"type": "point", "shape": "triangle-up", "filled": true, "color": "#000", "size": 80, "opacity": 1},
 "encoding": {
  "x": {"field": "x", "type": "quantitative", "scale": {"domain": [0, 150], "nice": false}, "axis": null},
  "y": {"datum": -16, "type": "quantitative", "scale": {"domain": [0, 800], "nice": false}, "axis": null}
 }}
]
},
{
"width": 327, "height": 300,
"title": {"text": "LBP-3 400μg/ml", "offset": 6, "dx": 10},
"resolve": {"axis": {"x": "independent", "y": "independent"}},
"layer": [
{"data": {"name": "p2c"}, "transform": [{"filter": {"field": "c", "oneOf": ["Debris", "Aggregates"]}}],
 "mark": {"type": "area", "interpolate": "monotone", "stroke": "#333", "strokeWidth": 0.6, "clip": true},
 "encoding": {
  "x": {"field": "x", "type": "quantitative", "scale": {"domain": [0, 200], "nice": false}, "axis": {"title": "Channels (PLA)", "orient": "bottom", "values": [0, 40, 80, 120, 160, 200], "tickSize": 5, "labelPadding": 4, "titlePadding": 1, "labelFlush": false}},
  "y": {"field": "y", "type": "quantitative", "stack": null, "scale": {"domain": [0, 833], "nice": false}, "axis": {"title": "Number", "orient": "left", "values": [0, 200, 400, 600], "tickSize": 5, "labelAngle": 270, "labelAlign": "center", "labelBaseline": "bottom", "labelPadding": 4, "titlePadding": -2}},
  "fill": {"field": "c", "type": "nominal", "scale": {"domain": ["Debris", "Aggregates", "Dip G1", "Dip G2", "Dip S"], "range": ["#c8c8ea", "#c8e8c2", "#ee1c1c", "#ee1c1c", "#ffffff"]}, "legend": {"orient": "none", "legendX": 251, "legendY": 27, "title": null, "encode": {"symbols": {"update": {"stroke": {"value": "#555"}, "strokeWidth": {"value": 0.8}}}}}}
 }},
{"data": {"name": "p2c"}, "transform": [{"filter": {"field": "c", "equal": "Dip S"}}],
 "mark": {"type": "area", "interpolate": "monotone", "stroke": "#333", "strokeWidth": 0.6, "clip": true, "fill": {"gradient": "linear", "x1": 0, "y1": 1, "x2": 1, "y2": 0, "stops": [
{"offset":0,"color":"#777"},{"offset":0.006,"color":"#777"},{"offset":0.006,"color":"#fff"},{"offset":0.02,"color":"#fff"},{"offset":0.02,"color":"#777"},{"offset":0.026,"color":"#777"},{"offset":0.026,"color":"#fff"},{"offset":0.04,"color":"#fff"},{"offset":0.04,"color":"#777"},{"offset":0.046,"color":"#777"},{"offset":0.046,"color":"#fff"},{"offset":0.06,"color":"#fff"},{"offset":0.06,"color":"#777"},{"offset":0.066,"color":"#777"},{"offset":0.066,"color":"#fff"},{"offset":0.08,"color":"#fff"},{"offset":0.08,"color":"#777"},{"offset":0.086,"color":"#777"},{"offset":0.086,"color":"#fff"},{"offset":0.1,"color":"#fff"},{"offset":0.1,"color":"#777"},{"offset":0.106,"color":"#777"},{"offset":0.106,"color":"#fff"},{"offset":0.12,"color":"#fff"},{"offset":0.12,"color":"#777"},{"offset":0.126,"color":"#777"},{"offset":0.126,"color":"#fff"},{"offset":0.14,"color":"#fff"},{"offset":0.14,"color":"#777"},{"offset":0.146,"color":"#777"},{"offset":0.146,"color":"#fff"},{"offset":0.16,"color":"#fff"},{"offset":0.16,"color":"#777"},{"offset":0.166,"color":"#777"},{"offset":0.166,"color":"#fff"},{"offset":0.18,"color":"#fff"},{"offset":0.18,"color":"#777"},{"offset":0.186,"color":"#777"},{"offset":0.186,"color":"#fff"},{"offset":0.2,"color":"#fff"},{"offset":0.2,"color":"#777"},{"offset":0.206,"color":"#777"},{"offset":0.206,"color":"#fff"},{"offset":0.22,"color":"#fff"},{"offset":0.22,"color":"#777"},{"offset":0.226,"color":"#777"},{"offset":0.226,"color":"#fff"},{"offset":0.24,"color":"#fff"},{"offset":0.24,"color":"#777"},{"offset":0.246,"color":"#777"},{"offset":0.246,"color":"#fff"},{"offset":0.26,"color":"#fff"},{"offset":0.26,"color":"#777"},{"offset":0.266,"color":"#777"},{"offset":0.266,"color":"#fff"},{"offset":0.28,"color":"#fff"},{"offset":0.28,"color":"#777"},{"offset":0.286,"color":"#777"},{"offset":0.286,"color":"#fff"},{"offset":0.3,"color":"#fff"},{"offset":0.3,"color":"#777"},{"offset":0.306,"color":"#777"},{"offset":0.306,"color":"#fff"},{"offset":0.32,"color":"#fff"},{"offset":0.32,"color":"#777"},{"offset":0.326,"color":"#777"},{"offset":0.326,"color":"#fff"},{"offset":0.34,"color":"#fff"},{"offset":0.34,"color":"#777"},{"offset":0.346,"color":"#777"},{"offset":0.346,"color":"#fff"},{"offset":0.36,"color":"#fff"},{"offset":0.36,"color":"#777"},{"offset":0.366,"color":"#777"},{"offset":0.366,"color":"#fff"},{"offset":0.38,"color":"#fff"},{"offset":0.38,"color":"#777"},{"offset":0.386,"color":"#777"},{"offset":0.386,"color":"#fff"},{"offset":0.4,"color":"#fff"},{"offset":0.4,"color":"#777"},{"offset":0.406,"color":"#777"},{"offset":0.406,"color":"#fff"},{"offset":0.42,"color":"#fff"},{"offset":0.42,"color":"#777"},{"offset":0.426,"color":"#777"},{"offset":0.426,"color":"#fff"},{"offset":0.44,"color":"#fff"},{"offset":0.44,"color":"#777"},{"offset":0.446,"color":"#777"},{"offset":0.446,"color":"#fff"},{"offset":0.46,"color":"#fff"},{"offset":0.46,"color":"#777"},{"offset":0.466,"color":"#777"},{"offset":0.466,"color":"#fff"},{"offset":0.48,"color":"#fff"},{"offset":0.48,"color":"#777"},{"offset":0.486,"color":"#777"},{"offset":0.486,"color":"#fff"},{"offset":0.5,"color":"#fff"},{"offset":0.5,"color":"#777"},{"offset":0.506,"color":"#777"},{"offset":0.506,"color":"#fff"},{"offset":0.52,"color":"#fff"},{"offset":0.52,"color":"#777"},{"offset":0.526,"color":"#777"},{"offset":0.526,"color":"#fff"},{"offset":0.54,"color":"#fff"},{"offset":0.54,"color":"#777"},{"offset":0.546,"color":"#777"},{"offset":0.546,"color":"#fff"},{"offset":0.56,"color":"#fff"},{"offset":0.56,"color":"#777"},{"offset":0.566,"color":"#777"},{"offset":0.566,"color":"#fff"},{"offset":0.58,"color":"#fff"},{"offset":0.58,"color":"#777"},{"offset":0.586,"color":"#777"},{"offset":0.586,"color":"#fff"},{"offset":0.6,"color":"#fff"},{"offset":0.6,"color":"#777"},{"offset":0.606,"color":"#777"},{"offset":0.606,"color":"#fff"},{"offset":0.62,"color":"#fff"},{"offset":0.62,"color":"#777"},{"offset":0.626,"color":"#777"},{"offset":0.626,"color":"#fff"},{"offset":0.64,"color":"#fff"},{"offset":0.64,"color":"#777"},{"offset":0.646,"color":"#777"},{"offset":0.646,"color":"#fff"},{"offset":0.66,"color":"#fff"},{"offset":0.66,"color":"#777"},{"offset":0.666,"color":"#777"},{"offset":0.666,"color":"#fff"},{"offset":0.68,"color":"#fff"},{"offset":0.68,"color":"#777"},{"offset":0.686,"color":"#777"},{"offset":0.686,"color":"#fff"},{"offset":0.7,"color":"#fff"},{"offset":0.7,"color":"#777"},{"offset":0.706,"color":"#777"},{"offset":0.706,"color":"#fff"},{"offset":0.72,"color":"#fff"},{"offset":0.72,"color":"#777"},{"offset":0.726,"color":"#777"},{"offset":0.726,"color":"#fff"},{"offset":0.74,"color":"#fff"},{"offset":0.74,"color":"#777"},{"offset":0.746,"color":"#777"},{"offset":0.746,"color":"#fff"},{"offset":0.76,"color":"#fff"},{"offset":0.76,"color":"#777"},{"offset":0.766,"color":"#777"},{"offset":0.766,"color":"#fff"},{"offset":0.78,"color":"#fff"},{"offset":0.78,"color":"#777"},{"offset":0.786,"color":"#777"},{"offset":0.786,"color":"#fff"},{"offset":0.8,"color":"#fff"},{"offset":0.8,"color":"#777"},{"offset":0.806,"color":"#777"},{"offset":0.806,"color":"#fff"},{"offset":0.82,"color":"#fff"},{"offset":0.82,"color":"#777"},{"offset":0.826,"color":"#777"},{"offset":0.826,"color":"#fff"},{"offset":0.84,"color":"#fff"},{"offset":0.84,"color":"#777"},{"offset":0.846,"color":"#777"},{"offset":0.846,"color":"#fff"},{"offset":0.86,"color":"#fff"},{"offset":0.86,"color":"#777"},{"offset":0.866,"color":"#777"},{"offset":0.866,"color":"#fff"},{"offset":0.88,"color":"#fff"},{"offset":0.88,"color":"#777"},{"offset":0.886,"color":"#777"},{"offset":0.886,"color":"#fff"},{"offset":0.9,"color":"#fff"},{"offset":0.9,"color":"#777"},{"offset":0.906,"color":"#777"},{"offset":0.906,"color":"#fff"},{"offset":0.92,"color":"#fff"},{"offset":0.92,"color":"#777"},{"offset":0.926,"color":"#777"},{"offset":0.926,"color":"#fff"},{"offset":0.94,"color":"#fff"},{"offset":0.94,"color":"#777"},{"offset":0.946,"color":"#777"},{"offset":0.946,"color":"#fff"},{"offset":0.96,"color":"#fff"},{"offset":0.96,"color":"#777"},{"offset":0.966,"color":"#777"},{"offset":0.966,"color":"#fff"},{"offset":0.98,"color":"#fff"},{"offset":0.98,"color":"#777"},{"offset":0.986,"color":"#777"},{"offset":0.986,"color":"#fff"},{"offset":1,"color":"#fff"}]}},
 "encoding": {
  "x": {"field": "x", "type": "quantitative", "scale": {"domain": [0, 200], "nice": false}, "axis": null},
  "y": {"field": "y", "type": "quantitative", "stack": null, "scale": {"domain": [0, 833], "nice": false}, "axis": null}
 }},
{"data": {"name": "p2c"}, "transform": [{"filter": {"field": "c", "oneOf": ["Dip G1", "Dip G2"]}}],
 "mark": {"type": "area", "interpolate": "monotone", "blend": "multiply", "stroke": "#222", "strokeWidth": 0.6, "clip": true},
 "encoding": {
  "x": {"field": "x", "type": "quantitative", "scale": {"domain": [0, 200], "nice": false}, "axis": null},
  "y": {"field": "y", "type": "quantitative", "stack": null, "scale": {"domain": [0, 833], "nice": false}, "axis": null},
  "fill": {"field": "c", "type": "nominal", "scale": {"domain": ["Debris", "Aggregates", "Dip G1", "Dip G2", "Dip S"], "range": ["#c8c8ea", "#c8e8c2", "#ee1c1c", "#ee1c1c", "#ffffff"]}, "legend": {"orient": "none", "legendX": 251, "legendY": 27, "title": null, "encode": {"symbols": {"update": {"stroke": {"value": "#555"}, "strokeWidth": {"value": 0.8}}}}}}
 }},
{"data": {"name": "p2m"},
 "mark": {"type": "line", "interpolate": "monotone", "color": "#222", "strokeWidth": 0.8, "clip": true},
 "encoding": {
  "x": {"field": "x", "type": "quantitative", "scale": {"domain": [0, 200], "nice": false}, "axis": {"orient": "bottom", "values": [0,8,16,24,32,40,48,56,64,72,80,88,96,104,112,120,128,136,144,152,160,168,176,184,192,200], "labels": false, "domain": false, "tickSize": 3, "title": null}},
  "y": {"field": "y", "type": "quantitative", "scale": {"domain": [0, 833], "nice": false}, "axis": {"orient": "left", "values": [0,40,80,120,160,200,240,280,320,360,400,440,480,520,560,600,640,680,720,760,800], "labels": false, "domain": false, "tickSize": 3, "title": null}}
 }},
{"data": {"name": "p2r"},
 "mark": {"type": "line", "color": "#222", "strokeWidth": 0.7, "clip": true},
 "encoding": {
  "x": {"field": "x", "type": "quantitative", "scale": {"domain": [0, 200], "nice": false}, "axis": null},
  "y": {"field": "y", "type": "quantitative", "scale": {"domain": [0, 833], "nice": false}, "axis": null}
 }},
{"data": {"name": "p2t"},
 "mark": {"type": "text", "font": "Liberation Serif", "fontSize": 13, "color": "#333"},
 "encoding": {
  "x": {"field": "x", "type": "quantitative", "scale": {"domain": [0, 200], "nice": false}, "axis": null},
  "y": {"field": "y", "type": "quantitative", "scale": {"domain": [0, 833], "nice": false}, "axis": null},
  "text": {"field": "t"}
 }},
{"data": {"name": "p2k"},
 "mark": {"type": "point", "shape": "triangle-up", "filled": true, "color": "#000", "size": 80, "opacity": 1},
 "encoding": {
  "x": {"field": "x", "type": "quantitative", "scale": {"domain": [0, 200], "nice": false}, "axis": null},
  "y": {"datum": -17, "type": "quantitative", "scale": {"domain": [0, 833], "nice": false}, "axis": null}
 }}
]
},
{
"width": 353, "height": 308,
"title": {"text": "LBP-3 800μg/ml", "offset": 18, "dx": 10},
"resolve": {"axis": {"x": "independent", "y": "independent"}},
"layer": [
{"data": {"name": "p3c"}, "transform": [{"filter": {"field": "c", "oneOf": ["Debris", "Aggregates"]}}],
 "mark": {"type": "area", "interpolate": "monotone", "stroke": "#333", "strokeWidth": 0.6, "clip": true},
 "encoding": {
  "x": {"field": "x", "type": "quantitative", "scale": {"domain": [0, 200], "nice": false}, "axis": {"title": "Channels (PLA)", "orient": "bottom", "values": [0, 40, 80, 120, 160, 200], "tickSize": 5, "labelPadding": 4, "titlePadding": 1, "labelFlush": false}},
  "y": {"field": "y", "type": "quantitative", "stack": null, "scale": {"domain": [0, 800], "nice": false}, "axis": {"title": "Number", "orient": "left", "values": [0, 200, 400, 600], "tickSize": 5, "labelAngle": 270, "labelAlign": "center", "labelBaseline": "bottom", "labelPadding": 3, "titlePadding": -2}},
  "fill": {"field": "c", "type": "nominal", "scale": {"domain": ["Debris", "Aggregates", "Dip G1", "Dip G2", "Dip S"], "range": ["#c8c8ea", "#c8e8c2", "#ee1c1c", "#ee1c1c", "#ffffff"]}, "legend": {"orient": "none", "legendX": 274, "legendY": 16, "title": null, "encode": {"symbols": {"update": {"stroke": {"value": "#555"}, "strokeWidth": {"value": 0.8}}}}}}
 }},
{"data": {"name": "p3c"}, "transform": [{"filter": {"field": "c", "equal": "Dip S"}}],
 "mark": {"type": "area", "interpolate": "monotone", "stroke": "#333", "strokeWidth": 0.6, "clip": true, "fill": {"gradient": "linear", "x1": 0, "y1": 1, "x2": 1, "y2": 0, "stops": [
{"offset":0,"color":"#777"},{"offset":0.006,"color":"#777"},{"offset":0.006,"color":"#fff"},{"offset":0.02,"color":"#fff"},{"offset":0.02,"color":"#777"},{"offset":0.026,"color":"#777"},{"offset":0.026,"color":"#fff"},{"offset":0.04,"color":"#fff"},{"offset":0.04,"color":"#777"},{"offset":0.046,"color":"#777"},{"offset":0.046,"color":"#fff"},{"offset":0.06,"color":"#fff"},{"offset":0.06,"color":"#777"},{"offset":0.066,"color":"#777"},{"offset":0.066,"color":"#fff"},{"offset":0.08,"color":"#fff"},{"offset":0.08,"color":"#777"},{"offset":0.086,"color":"#777"},{"offset":0.086,"color":"#fff"},{"offset":0.1,"color":"#fff"},{"offset":0.1,"color":"#777"},{"offset":0.106,"color":"#777"},{"offset":0.106,"color":"#fff"},{"offset":0.12,"color":"#fff"},{"offset":0.12,"color":"#777"},{"offset":0.126,"color":"#777"},{"offset":0.126,"color":"#fff"},{"offset":0.14,"color":"#fff"},{"offset":0.14,"color":"#777"},{"offset":0.146,"color":"#777"},{"offset":0.146,"color":"#fff"},{"offset":0.16,"color":"#fff"},{"offset":0.16,"color":"#777"},{"offset":0.166,"color":"#777"},{"offset":0.166,"color":"#fff"},{"offset":0.18,"color":"#fff"},{"offset":0.18,"color":"#777"},{"offset":0.186,"color":"#777"},{"offset":0.186,"color":"#fff"},{"offset":0.2,"color":"#fff"},{"offset":0.2,"color":"#777"},{"offset":0.206,"color":"#777"},{"offset":0.206,"color":"#fff"},{"offset":0.22,"color":"#fff"},{"offset":0.22,"color":"#777"},{"offset":0.226,"color":"#777"},{"offset":0.226,"color":"#fff"},{"offset":0.24,"color":"#fff"},{"offset":0.24,"color":"#777"},{"offset":0.246,"color":"#777"},{"offset":0.246,"color":"#fff"},{"offset":0.26,"color":"#fff"},{"offset":0.26,"color":"#777"},{"offset":0.266,"color":"#777"},{"offset":0.266,"color":"#fff"},{"offset":0.28,"color":"#fff"},{"offset":0.28,"color":"#777"},{"offset":0.286,"color":"#777"},{"offset":0.286,"color":"#fff"},{"offset":0.3,"color":"#fff"},{"offset":0.3,"color":"#777"},{"offset":0.306,"color":"#777"},{"offset":0.306,"color":"#fff"},{"offset":0.32,"color":"#fff"},{"offset":0.32,"color":"#777"},{"offset":0.326,"color":"#777"},{"offset":0.326,"color":"#fff"},{"offset":0.34,"color":"#fff"},{"offset":0.34,"color":"#777"},{"offset":0.346,"color":"#777"},{"offset":0.346,"color":"#fff"},{"offset":0.36,"color":"#fff"},{"offset":0.36,"color":"#777"},{"offset":0.366,"color":"#777"},{"offset":0.366,"color":"#fff"},{"offset":0.38,"color":"#fff"},{"offset":0.38,"color":"#777"},{"offset":0.386,"color":"#777"},{"offset":0.386,"color":"#fff"},{"offset":0.4,"color":"#fff"},{"offset":0.4,"color":"#777"},{"offset":0.406,"color":"#777"},{"offset":0.406,"color":"#fff"},{"offset":0.42,"color":"#fff"},{"offset":0.42,"color":"#777"},{"offset":0.426,"color":"#777"},{"offset":0.426,"color":"#fff"},{"offset":0.44,"color":"#fff"},{"offset":0.44,"color":"#777"},{"offset":0.446,"color":"#777"},{"offset":0.446,"color":"#fff"},{"offset":0.46,"color":"#fff"},{"offset":0.46,"color":"#777"},{"offset":0.466,"color":"#777"},{"offset":0.466,"color":"#fff"},{"offset":0.48,"color":"#fff"},{"offset":0.48,"color":"#777"},{"offset":0.486,"color":"#777"},{"offset":0.486,"color":"#fff"},{"offset":0.5,"color":"#fff"},{"offset":0.5,"color":"#777"},{"offset":0.506,"color":"#777"},{"offset":0.506,"color":"#fff"},{"offset":0.52,"color":"#fff"},{"offset":0.52,"color":"#777"},{"offset":0.526,"color":"#777"},{"offset":0.526,"color":"#fff"},{"offset":0.54,"color":"#fff"},{"offset":0.54,"color":"#777"},{"offset":0.546,"color":"#777"},{"offset":0.546,"color":"#fff"},{"offset":0.56,"color":"#fff"},{"offset":0.56,"color":"#777"},{"offset":0.566,"color":"#777"},{"offset":0.566,"color":"#fff"},{"offset":0.58,"color":"#fff"},{"offset":0.58,"color":"#777"},{"offset":0.586,"color":"#777"},{"offset":0.586,"color":"#fff"},{"offset":0.6,"color":"#fff"},{"offset":0.6,"color":"#777"},{"offset":0.606,"color":"#777"},{"offset":0.606,"color":"#fff"},{"offset":0.62,"color":"#fff"},{"offset":0.62,"color":"#777"},{"offset":0.626,"color":"#777"},{"offset":0.626,"color":"#fff"},{"offset":0.64,"color":"#fff"},{"offset":0.64,"color":"#777"},{"offset":0.646,"color":"#777"},{"offset":0.646,"color":"#fff"},{"offset":0.66,"color":"#fff"},{"offset":0.66,"color":"#777"},{"offset":0.666,"color":"#777"},{"offset":0.666,"color":"#fff"},{"offset":0.68,"color":"#fff"},{"offset":0.68,"color":"#777"},{"offset":0.686,"color":"#777"},{"offset":0.686,"color":"#fff"},{"offset":0.7,"color":"#fff"},{"offset":0.7,"color":"#777"},{"offset":0.706,"color":"#777"},{"offset":0.706,"color":"#fff"},{"offset":0.72,"color":"#fff"},{"offset":0.72,"color":"#777"},{"offset":0.726,"color":"#777"},{"offset":0.726,"color":"#fff"},{"offset":0.74,"color":"#fff"},{"offset":0.74,"color":"#777"},{"offset":0.746,"color":"#777"},{"offset":0.746,"color":"#fff"},{"offset":0.76,"color":"#fff"},{"offset":0.76,"color":"#777"},{"offset":0.766,"color":"#777"},{"offset":0.766,"color":"#fff"},{"offset":0.78,"color":"#fff"},{"offset":0.78,"color":"#777"},{"offset":0.786,"color":"#777"},{"offset":0.786,"color":"#fff"},{"offset":0.8,"color":"#fff"},{"offset":0.8,"color":"#777"},{"offset":0.806,"color":"#777"},{"offset":0.806,"color":"#fff"},{"offset":0.82,"color":"#fff"},{"offset":0.82,"color":"#777"},{"offset":0.826,"color":"#777"},{"offset":0.826,"color":"#fff"},{"offset":0.84,"color":"#fff"},{"offset":0.84,"color":"#777"},{"offset":0.846,"color":"#777"},{"offset":0.846,"color":"#fff"},{"offset":0.86,"color":"#fff"},{"offset":0.86,"color":"#777"},{"offset":0.866,"color":"#777"},{"offset":0.866,"color":"#fff"},{"offset":0.88,"color":"#fff"},{"offset":0.88,"color":"#777"},{"offset":0.886,"color":"#777"},{"offset":0.886,"color":"#fff"},{"offset":0.9,"color":"#fff"},{"offset":0.9,"color":"#777"},{"offset":0.906,"color":"#777"},{"offset":0.906,"color":"#fff"},{"offset":0.92,"color":"#fff"},{"offset":0.92,"color":"#777"},{"offset":0.926,"color":"#777"},{"offset":0.926,"color":"#fff"},{"offset":0.94,"color":"#fff"},{"offset":0.94,"color":"#777"},{"offset":0.946,"color":"#777"},{"offset":0.946,"color":"#fff"},{"offset":0.96,"color":"#fff"},{"offset":0.96,"color":"#777"},{"offset":0.966,"color":"#777"},{"offset":0.966,"color":"#fff"},{"offset":0.98,"color":"#fff"},{"offset":0.98,"color":"#777"},{"offset":0.986,"color":"#777"},{"offset":0.986,"color":"#fff"},{"offset":1,"color":"#fff"}]}},
 "encoding": {
  "x": {"field": "x", "type": "quantitative", "scale": {"domain": [0, 200], "nice": false}, "axis": null},
  "y": {"field": "y", "type": "quantitative", "stack": null, "scale": {"domain": [0, 800], "nice": false}, "axis": null}
 }},
{"data": {"name": "p3c"}, "transform": [{"filter": {"field": "c", "oneOf": ["Dip G1", "Dip G2"]}}],
 "mark": {"type": "area", "interpolate": "monotone", "blend": "multiply", "stroke": "#222", "strokeWidth": 0.6, "clip": true},
 "encoding": {
  "x": {"field": "x", "type": "quantitative", "scale": {"domain": [0, 200], "nice": false}, "axis": null},
  "y": {"field": "y", "type": "quantitative", "stack": null, "scale": {"domain": [0, 800], "nice": false}, "axis": null},
  "fill": {"field": "c", "type": "nominal", "scale": {"domain": ["Debris", "Aggregates", "Dip G1", "Dip G2", "Dip S"], "range": ["#c8c8ea", "#c8e8c2", "#ee1c1c", "#ee1c1c", "#ffffff"]}, "legend": {"orient": "none", "legendX": 274, "legendY": 16, "title": null, "encode": {"symbols": {"update": {"stroke": {"value": "#555"}, "strokeWidth": {"value": 0.8}}}}}}
 }},
{"data": {"name": "p3m"},
 "mark": {"type": "line", "interpolate": "monotone", "color": "#222", "strokeWidth": 0.8, "clip": true},
 "encoding": {
  "x": {"field": "x", "type": "quantitative", "scale": {"domain": [0, 200], "nice": false}, "axis": {"orient": "bottom", "values": [0,8,16,24,32,40,48,56,64,72,80,88,96,104,112,120,128,136,144,152,160,168,176,184,192,200], "labels": false, "domain": false, "tickSize": 3, "title": null}},
  "y": {"field": "y", "type": "quantitative", "scale": {"domain": [0, 800], "nice": false}, "axis": {"orient": "left", "values": [0,40,80,120,160,200,240,280,320,360,400,440,480,520,560,600,640,680,720,760,800], "labels": false, "domain": false, "tickSize": 3, "title": null}}
 }},
{"data": {"name": "p3r"},
 "mark": {"type": "line", "color": "#222", "strokeWidth": 0.7, "clip": true},
 "encoding": {
  "x": {"field": "x", "type": "quantitative", "scale": {"domain": [0, 200], "nice": false}, "axis": null},
  "y": {"field": "y", "type": "quantitative", "scale": {"domain": [0, 800], "nice": false}, "axis": null}
 }},
{"data": {"name": "p3t"},
 "mark": {"type": "text", "font": "Liberation Serif", "fontSize": 13, "color": "#333"},
 "encoding": {
  "x": {"field": "x", "type": "quantitative", "scale": {"domain": [0, 200], "nice": false}, "axis": null},
  "y": {"field": "y", "type": "quantitative", "scale": {"domain": [0, 800], "nice": false}, "axis": null},
  "text": {"field": "t"}
 }},
{"data": {"name": "p3k"},
 "mark": {"type": "point", "shape": "triangle-up", "filled": true, "color": "#000", "size": 80, "opacity": 1},
 "encoding": {
  "x": {"field": "x", "type": "quantitative", "scale": {"domain": [0, 200], "nice": false}, "axis": null},
  "y": {"datum": -16, "type": "quantitative", "scale": {"domain": [0, 800], "nice": false}, "axis": null}
 }}
]
},
{
"width": 332, "height": 308,
"title": {"text": "LBP-3 1200μg/ml", "offset": 18, "dx": 20},
"resolve": {"axis": {"x": "independent", "y": "independent"}},
"layer": [
{"data": {"name": "p4c"}, "transform": [{"filter": {"field": "c", "oneOf": ["Debris", "Aggregates"]}}],
 "mark": {"type": "area", "interpolate": "monotone", "stroke": "#333", "strokeWidth": 0.6, "clip": true},
 "encoding": {
  "x": {"field": "x", "type": "quantitative", "scale": {"domain": [0, 200], "nice": false}, "axis": {"title": "Channels (PLA)", "orient": "bottom", "values": [0, 40, 80, 120, 160, 200], "tickSize": 5, "labelPadding": 4, "titlePadding": 1, "labelFlush": false}},
  "y": {"field": "y", "type": "quantitative", "stack": null, "scale": {"domain": [0, 700], "nice": false}, "axis": {"title": "Number", "orient": "left", "values": [0, 100, 200, 300, 400, 500, 600], "tickSize": 5, "labelAngle": 270, "labelAlign": "center", "labelBaseline": "bottom", "labelPadding": 3, "titlePadding": -2}},
  "fill": {"field": "c", "type": "nominal", "scale": {"domain": ["Debris", "Aggregates", "Dip G1", "Dip G2", "Dip S"], "range": ["#c8c8ea", "#c8e8c2", "#ee1c1c", "#ee1c1c", "#ffffff"]}, "legend": {"orient": "none", "legendX": 262, "legendY": 13, "title": null, "encode": {"symbols": {"update": {"stroke": {"value": "#555"}, "strokeWidth": {"value": 0.8}}}}}}
 }},
{"data": {"name": "p4c"}, "transform": [{"filter": {"field": "c", "equal": "Dip S"}}],
 "mark": {"type": "area", "interpolate": "monotone", "stroke": "#333", "strokeWidth": 0.6, "clip": true, "fill": {"gradient": "linear", "x1": 0, "y1": 1, "x2": 1, "y2": 0, "stops": [
{"offset":0,"color":"#777"},{"offset":0.006,"color":"#777"},{"offset":0.006,"color":"#fff"},{"offset":0.02,"color":"#fff"},{"offset":0.02,"color":"#777"},{"offset":0.026,"color":"#777"},{"offset":0.026,"color":"#fff"},{"offset":0.04,"color":"#fff"},{"offset":0.04,"color":"#777"},{"offset":0.046,"color":"#777"},{"offset":0.046,"color":"#fff"},{"offset":0.06,"color":"#fff"},{"offset":0.06,"color":"#777"},{"offset":0.066,"color":"#777"},{"offset":0.066,"color":"#fff"},{"offset":0.08,"color":"#fff"},{"offset":0.08,"color":"#777"},{"offset":0.086,"color":"#777"},{"offset":0.086,"color":"#fff"},{"offset":0.1,"color":"#fff"},{"offset":0.1,"color":"#777"},{"offset":0.106,"color":"#777"},{"offset":0.106,"color":"#fff"},{"offset":0.12,"color":"#fff"},{"offset":0.12,"color":"#777"},{"offset":0.126,"color":"#777"},{"offset":0.126,"color":"#fff"},{"offset":0.14,"color":"#fff"},{"offset":0.14,"color":"#777"},{"offset":0.146,"color":"#777"},{"offset":0.146,"color":"#fff"},{"offset":0.16,"color":"#fff"},{"offset":0.16,"color":"#777"},{"offset":0.166,"color":"#777"},{"offset":0.166,"color":"#fff"},{"offset":0.18,"color":"#fff"},{"offset":0.18,"color":"#777"},{"offset":0.186,"color":"#777"},{"offset":0.186,"color":"#fff"},{"offset":0.2,"color":"#fff"},{"offset":0.2,"color":"#777"},{"offset":0.206,"color":"#777"},{"offset":0.206,"color":"#fff"},{"offset":0.22,"color":"#fff"},{"offset":0.22,"color":"#777"},{"offset":0.226,"color":"#777"},{"offset":0.226,"color":"#fff"},{"offset":0.24,"color":"#fff"},{"offset":0.24,"color":"#777"},{"offset":0.246,"color":"#777"},{"offset":0.246,"color":"#fff"},{"offset":0.26,"color":"#fff"},{"offset":0.26,"color":"#777"},{"offset":0.266,"color":"#777"},{"offset":0.266,"color":"#fff"},{"offset":0.28,"color":"#fff"},{"offset":0.28,"color":"#777"},{"offset":0.286,"color":"#777"},{"offset":0.286,"color":"#fff"},{"offset":0.3,"color":"#fff"},{"offset":0.3,"color":"#777"},{"offset":0.306,"color":"#777"},{"offset":0.306,"color":"#fff"},{"offset":0.32,"color":"#fff"},{"offset":0.32,"color":"#777"},{"offset":0.326,"color":"#777"},{"offset":0.326,"color":"#fff"},{"offset":0.34,"color":"#fff"},{"offset":0.34,"color":"#777"},{"offset":0.346,"color":"#777"},{"offset":0.346,"color":"#fff"},{"offset":0.36,"color":"#fff"},{"offset":0.36,"color":"#777"},{"offset":0.366,"color":"#777"},{"offset":0.366,"color":"#fff"},{"offset":0.38,"color":"#fff"},{"offset":0.38,"color":"#777"},{"offset":0.386,"color":"#777"},{"offset":0.386,"color":"#fff"},{"offset":0.4,"color":"#fff"},{"offset":0.4,"color":"#777"},{"offset":0.406,"color":"#777"},{"offset":0.406,"color":"#fff"},{"offset":0.42,"color":"#fff"},{"offset":0.42,"color":"#777"},{"offset":0.426,"color":"#777"},{"offset":0.426,"color":"#fff"},{"offset":0.44,"color":"#fff"},{"offset":0.44,"color":"#777"},{"offset":0.446,"color":"#777"},{"offset":0.446,"color":"#fff"},{"offset":0.46,"color":"#fff"},{"offset":0.46,"color":"#777"},{"offset":0.466,"color":"#777"},{"offset":0.466,"color":"#fff"},{"offset":0.48,"color":"#fff"},{"offset":0.48,"color":"#777"},{"offset":0.486,"color":"#777"},{"offset":0.486,"color":"#fff"},{"offset":0.5,"color":"#fff"},{"offset":0.5,"color":"#777"},{"offset":0.506,"color":"#777"},{"offset":0.506,"color":"#fff"},{"offset":0.52,"color":"#fff"},{"offset":0.52,"color":"#777"},{"offset":0.526,"color":"#777"},{"offset":0.526,"color":"#fff"},{"offset":0.54,"color":"#fff"},{"offset":0.54,"color":"#777"},{"offset":0.546,"color":"#777"},{"offset":0.546,"color":"#fff"},{"offset":0.56,"color":"#fff"},{"offset":0.56,"color":"#777"},{"offset":0.566,"color":"#777"},{"offset":0.566,"color":"#fff"},{"offset":0.58,"color":"#fff"},{"offset":0.58,"color":"#777"},{"offset":0.586,"color":"#777"},{"offset":0.586,"color":"#fff"},{"offset":0.6,"color":"#fff"},{"offset":0.6,"color":"#777"},{"offset":0.606,"color":"#777"},{"offset":0.606,"color":"#fff"},{"offset":0.62,"color":"#fff"},{"offset":0.62,"color":"#777"},{"offset":0.626,"color":"#777"},{"offset":0.626,"color":"#fff"},{"offset":0.64,"color":"#fff"},{"offset":0.64,"color":"#777"},{"offset":0.646,"color":"#777"},{"offset":0.646,"color":"#fff"},{"offset":0.66,"color":"#fff"},{"offset":0.66,"color":"#777"},{"offset":0.666,"color":"#777"},{"offset":0.666,"color":"#fff"},{"offset":0.68,"color":"#fff"},{"offset":0.68,"color":"#777"},{"offset":0.686,"color":"#777"},{"offset":0.686,"color":"#fff"},{"offset":0.7,"color":"#fff"},{"offset":0.7,"color":"#777"},{"offset":0.706,"color":"#777"},{"offset":0.706,"color":"#fff"},{"offset":0.72,"color":"#fff"},{"offset":0.72,"color":"#777"},{"offset":0.726,"color":"#777"},{"offset":0.726,"color":"#fff"},{"offset":0.74,"color":"#fff"},{"offset":0.74,"color":"#777"},{"offset":0.746,"color":"#777"},{"offset":0.746,"color":"#fff"},{"offset":0.76,"color":"#fff"},{"offset":0.76,"color":"#777"},{"offset":0.766,"color":"#777"},{"offset":0.766,"color":"#fff"},{"offset":0.78,"color":"#fff"},{"offset":0.78,"color":"#777"},{"offset":0.786,"color":"#777"},{"offset":0.786,"color":"#fff"},{"offset":0.8,"color":"#fff"},{"offset":0.8,"color":"#777"},{"offset":0.806,"color":"#777"},{"offset":0.806,"color":"#fff"},{"offset":0.82,"color":"#fff"},{"offset":0.82,"color":"#777"},{"offset":0.826,"color":"#777"},{"offset":0.826,"color":"#fff"},{"offset":0.84,"color":"#fff"},{"offset":0.84,"color":"#777"},{"offset":0.846,"color":"#777"},{"offset":0.846,"color":"#fff"},{"offset":0.86,"color":"#fff"},{"offset":0.86,"color":"#777"},{"offset":0.866,"color":"#777"},{"offset":0.866,"color":"#fff"},{"offset":0.88,"color":"#fff"},{"offset":0.88,"color":"#777"},{"offset":0.886,"color":"#777"},{"offset":0.886,"color":"#fff"},{"offset":0.9,"color":"#fff"},{"offset":0.9,"color":"#777"},{"offset":0.906,"color":"#777"},{"offset":0.906,"color":"#fff"},{"offset":0.92,"color":"#fff"},{"offset":0.92,"color":"#777"},{"offset":0.926,"color":"#777"},{"offset":0.926,"color":"#fff"},{"offset":0.94,"color":"#fff"},{"offset":0.94,"color":"#777"},{"offset":0.946,"color":"#777"},{"offset":0.946,"color":"#fff"},{"offset":0.96,"color":"#fff"},{"offset":0.96,"color":"#777"},{"offset":0.966,"color":"#777"},{"offset":0.966,"color":"#fff"},{"offset":0.98,"color":"#fff"},{"offset":0.98,"color":"#777"},{"offset":0.986,"color":"#777"},{"offset":0.986,"color":"#fff"},{"offset":1,"color":"#fff"}]}},
 "encoding": {
  "x": {"field": "x", "type": "quantitative", "scale": {"domain": [0, 200], "nice": false}, "axis": null},
  "y": {"field": "y", "type": "quantitative", "stack": null, "scale": {"domain": [0, 700], "nice": false}, "axis": null}
 }},
{"data": {"name": "p4c"}, "transform": [{"filter": {"field": "c", "oneOf": ["Dip G1", "Dip G2"]}}],
 "mark": {"type": "area", "interpolate": "monotone", "blend": "multiply", "stroke": "#222", "strokeWidth": 0.6, "clip": true},
 "encoding": {
  "x": {"field": "x", "type": "quantitative", "scale": {"domain": [0, 200], "nice": false}, "axis": null},
  "y": {"field": "y", "type": "quantitative", "stack": null, "scale": {"domain": [0, 700], "nice": false}, "axis": null},
  "fill": {"field": "c", "type": "nominal", "scale": {"domain": ["Debris", "Aggregates", "Dip G1", "Dip G2", "Dip S"], "range": ["#c8c8ea", "#c8e8c2", "#ee1c1c", "#ee1c1c", "#ffffff"]}, "legend": {"orient": "none", "legendX": 262, "legendY": 13, "title": null, "encode": {"symbols": {"update": {"stroke": {"value": "#555"}, "strokeWidth": {"value": 0.8}}}}}}
 }},
{"data": {"name": "p4m"},
 "mark": {"type": "line", "interpolate": "monotone", "color": "#222", "strokeWidth": 0.8, "clip": true},
 "encoding": {
  "x": {"field": "x", "type": "quantitative", "scale": {"domain": [0, 200], "nice": false}, "axis": {"orient": "bottom", "values": [0,8,16,24,32,40,48,56,64,72,80,88,96,104,112,120,128,136,144,152,160,168,176,184,192,200], "labels": false, "domain": false, "tickSize": 3, "title": null}},
  "y": {"field": "y", "type": "quantitative", "scale": {"domain": [0, 700], "nice": false}, "axis": {"orient": "left", "values": [0,20,40,60,80,100,120,140,160,180,200,220,240,260,280,300,320,340,360,380,400,420,440,460,480,500,520,540,560,580,600,620,640,660,680,700], "labels": false, "domain": false, "tickSize": 3, "title": null}}
 }},
{"data": {"name": "p4r"},
 "mark": {"type": "line", "color": "#222", "strokeWidth": 0.7, "clip": true},
 "encoding": {
  "x": {"field": "x", "type": "quantitative", "scale": {"domain": [0, 200], "nice": false}, "axis": null},
  "y": {"field": "y", "type": "quantitative", "scale": {"domain": [0, 700], "nice": false}, "axis": null}
 }},
{"data": {"name": "p4t"},
 "mark": {"type": "text", "font": "Liberation Serif", "fontSize": 13, "color": "#333"},
 "encoding": {
  "x": {"field": "x", "type": "quantitative", "scale": {"domain": [0, 200], "nice": false}, "axis": null},
  "y": {"field": "y", "type": "quantitative", "scale": {"domain": [0, 700], "nice": false}, "axis": null},
  "text": {"field": "t"}
 }}
]
}
],
"config": {
 "view": {"stroke": null},
 "font": "Liberation Sans",
 "axis": {"grid": false, "domainColor": "#333", "tickColor": "#333", "labelColor": "#444", "labelFont": "Liberation Sans", "labelFontSize": 10, "titleFont": "Liberation Sans", "titleFontSize": 12, "titleFontWeight": "normal", "titleColor": "#222"},
 "title": {"font": "Liberation Serif", "fontSize": 14, "fontWeight": "bold", "color": "#111", "anchor": "middle"},
 "legend": {"symbolType": "M-1,-0.77H1V0.77H-1Z", "symbolSize": 169, "symbolStrokeColor": "#555", "symbolStrokeWidth": 0.8, "labelFont": "Liberation Sans", "labelFontSize": 10, "labelColor": "#3b3b94", "labelOffset": 6, "rowPadding": 1, "clipHeight": 11, "padding": 0}
}
}
